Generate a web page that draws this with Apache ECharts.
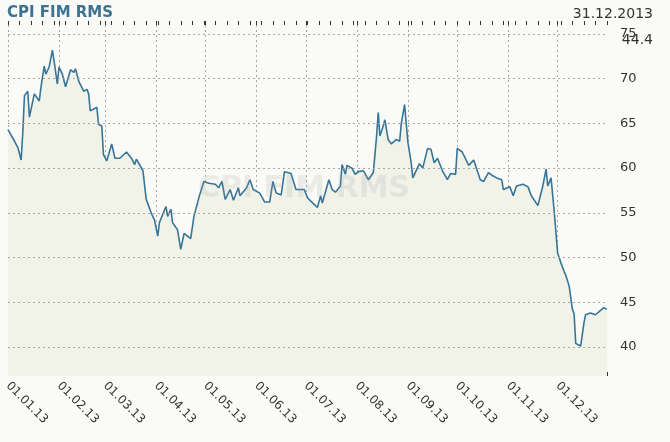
<!DOCTYPE html>
<html><head><meta charset="utf-8">
<script src="https://cdn.jsdelivr.net/npm/echarts@6/dist/echarts.min.js"></script>
<style>html,body{margin:0;padding:0;background:#fafaf6}#c{width:670px;height:442px}</style>
</head><body><div id="c"></div>
<script>
const title = 'CPI FIM RMS';
const lastDate = '31.12.2013';
const lastValue = '44.4';
const yTicks = [40,45,50,55,60,65,70,75];
// day of year (0 = 1 Jan 2013)
const days = [0,4,6,8,9,10,12,13,14,16,19,20,22,23,25,27,28,30,31,33,35,38,40,41,43,46,48,49,50,54,55,57,58,60,63,65,68,72,75,77,78,82,84,87,89,91,92,96,97,99,100,103,105,107,111,113,116,119,122,126,128,130,132,135,137,140,141,145,147,149,153,156,159,161,163,166,168,172,175,180,182,184,188,190,191,195,197,199,202,203,205,206,209,211,213,216,219,222,224,225,226,228,229,231,233,236,238,239,241,242,243,245,246,250,252,255,257,259,261,264,267,269,272,273,276,280,283,287,289,292,294,297,300,301,305,307,309,313,316,318,322,325,327,328,330,332,334,336,338,339,341,343,344,345,348,350,351,354,357,362,364];
const values = [64.3,63.0,62.3,60.9,64.0,68.1,68.6,65.7,65.5,68.3,67.5,69.0,71.4,70.5,71.3,73.2,72.0,69.4,71.3,70.5,69.1,71.0,70.7,71.1,69.7,68.6,68.8,68.3,66.4,66.8,64.9,64.7,61.5,60.8,62.7,61.1,61.1,61.8,61.1,60.4,61.0,59.7,56.5,55.0,54.2,52.4,53.9,55.7,54.6,55.4,53.9,53.1,50.9,52.7,52.1,54.6,56.7,58.5,58.3,58.2,57.8,58.5,56.5,57.6,56.4,57.8,56.9,57.8,58.7,57.6,57.2,56.2,56.2,58.5,57.2,57.0,59.6,59.4,57.6,57.6,56.7,56.3,55.6,56.9,56.1,58.7,57.6,57.3,58.0,60.4,59.3,60.3,60.0,59.3,59.6,59.7,58.7,59.5,63.6,66.2,63.6,64.7,65.4,63.2,62.7,63.2,63.0,65.0,67.1,65.0,62.9,60.6,58.9,60.5,60.0,62.2,62.1,60.6,61.1,59.7,58.7,59.4,59.3,62.2,61.8,60.3,60.9,58.7,58.5,59.5,59.2,58.9,58.7,57.6,57.9,56.9,58.0,58.2,57.9,56.9,55.8,58.0,59.9,58.0,58.9,55.0,50.5,49.4,48.4,48.0,46.8,44.2,43.7,40.4,40.1,42.7,43.6,43.8,43.6,44.4,44.2];

const cats = [];
const monthStart = new Set();
for (let i = 0; i < 365; i++) {
  const d = new Date(Date.UTC(2013,0,1+i));
  const dd = String(d.getUTCDate()).padStart(2,'0');
  const mm = String(d.getUTCMonth()+1).padStart(2,'0');
  cats.push(dd+'.'+mm+'.13');
  if (d.getUTCDate() === 1) monthStart.add(i);
}
const series = new Array(365).fill(null);
days.forEach((d,i)=>{ series[d] = values[i]; });

const chart = echarts.init(document.getElementById('c'));
const F = 'DejaVu Sans';
const grid = {type:[2,3],color:'#a8a8a8',width:1};
chart.setOption({
  backgroundColor:'#fafaf6',
  animation:false,
  grid:{left:8,right:63,top:25,bottom:66},
  graphic:{elements:[
    {type:'text',left:7,top:6,style:{text:title,fill:'#3d7293',font:'bold 15px '+F}},
    {type:'text',right:17,top:7,style:{text:lastDate,fill:'#333',font:'14px '+F}},
    {type:'text',right:17,top:33,style:{text:lastValue,fill:'#333',font:'14px '+F}},
    {type:'text',left:198,top:174,z:100,style:{text:title,fill:'rgba(160,160,160,0.18)',font:'bold 30px '+F}},
    {type:'text',left:22,top:333,style:{text:'www.kurzy.cz',fill:'#c4c4c4',font:'13px '+F}}
  ]},
  xAxis:[{
    type:'category',data:cats,boundaryGap:false,
    axisLine:{show:false},
    axisTick:{show:true,inside:true,length:4,interval:i=>i%7===0||monthStart.has(i),lineStyle:{color:'#333'}},
    axisLabel:{interval:i=>monthStart.has(i),rotate:-45,fontFamily:F,fontSize:12,color:'#333',margin:8},
    splitLine:{show:true,interval:i=>monthStart.has(i),lineStyle:grid}
  },{
    type:'category',data:cats,boundaryGap:false,position:'top',
    axisLine:{show:false},axisLabel:{show:false},splitLine:{show:false},
    axisTick:{show:true,inside:false,length:4,interval:i=>i%7===0||monthStart.has(i),lineStyle:{color:'#333'}}
  }],
  yAxis:{
    type:'value',position:'right',min:36.75,max:76.0,
    axisLine:{show:false},splitLine:{show:false},
    axisTick:{show:false},
    axisLabel:{customValues:yTicks,fontFamily:F,fontSize:13,color:'#333',margin:13}
  },
  series:[{
    type:'line',data:series,connectNulls:true,showSymbol:false,symbol:'none',
    lineStyle:{color:'#387599',width:1.6},
    areaStyle:{color:'#f1f2e8',opacity:1},
    markLine:{silent:true,symbol:'none',label:{show:false},
      lineStyle:grid,
      data:yTicks.map(v=>({yAxis:v}))},
    z:3
  }]
});
</script></body></html>
